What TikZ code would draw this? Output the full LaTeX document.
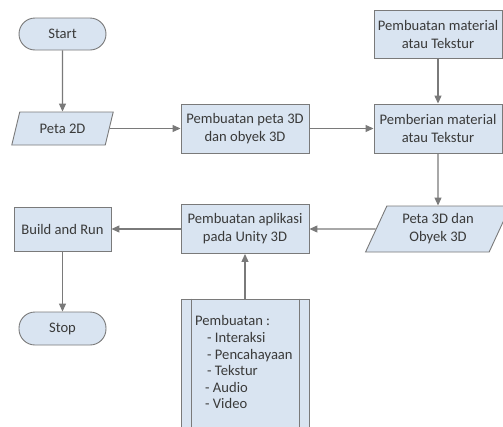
\documentclass[tikz,border=0pt]{standalone}
\usepackage{fontspec}
\setmainfont{Carlito}
\usetikzlibrary{shapes.geometric,arrows.meta,calc}
\definecolor{edgec}{HTML}{7A7A7A}
\definecolor{fillc}{HTML}{D9E4F1}
\definecolor{txtc}{HTML}{3A3A3A}
\begin{document}
\begin{tikzpicture}[x=1pt,y=-1pt,
  every node/.style={font=\fontsize{14.6}{18}\selectfont, text=txtc},
  box/.style={draw=edgec, fill=fillc, line width=0.9pt, minimum width=128pt, minimum height=49pt, align=center, inner sep=0pt},
  term/.style={draw=edgec, fill=fillc, line width=0.9pt, rounded corners=16pt, minimum width=87pt, minimum height=32pt, inner sep=0pt},
  iobox/.style={draw=edgec, fill=fillc, line width=0.9pt, trapezium, trapezium stretches=true, inner sep=0pt, align=center},
  arr/.style={draw=edgec, line width=1.1pt, -{Triangle[length=8pt,width=7pt]}}
]
\useasboundingbox (0,0) rectangle (503,426);
\clip (0,0) rectangle (503,426);
\fill[white] (0,0) rectangle (503,426);

\node[term] (start) at (62.5,34) {Start};
\node[iobox, trapezium left angle=66, trapezium right angle=114, minimum width=102pt, minimum height=33pt] (p2d) at (62.5,128.5) {Peta 2D};
\node[box] (b3d) at (245,128.5) {Pembuatan peta 3D\\dan obyek 3D};
\node[box, minimum height=48pt] (mat) at (438,34) {Pembuatan material\\atau Tekstur};
\node[box] (pem) at (438,128.5) {Pemberian material\\atau Tekstur};
\node[iobox, trapezium left angle=64, trapezium right angle=116, minimum width=145pt, minimum height=46pt] (p3d) at (438,229) {Peta 3D dan\\Obyek 3D};
\node[box] (app) at (245,229) {Pembuatan aplikasi\\pada Unity 3D};
\node[box, minimum width=97pt, minimum height=44pt] (build) at (62.5,229) {Build and Run};
\node[term, minimum height=33pt] (stop) at (62.5,328.5) {Stop};
\node[box, minimum height=141pt] (list) at (245,369.5) {};
\draw[edgec, line width=0.9pt] ($(list.north west)+(10.5,0)$) -- ($(list.south west)+(10.5,0)$);
\draw[edgec, line width=0.9pt] ($(list.north east)+(-10,0)$) -- ($(list.south east)+(-10,0)$);
\node[anchor=north west, inner sep=0pt, align=left, font=\fontsize{14.6}{16.6}\selectfont] (listtxt) at (195,315.5)
  {Pembuatan :\\\hspace*{12pt}- Interaksi\\\hspace*{12pt}- Pencahayaan\\\hspace*{12pt}- Tekstur\\\hspace*{10pt}- Audio\\\hspace*{10pt}- Video};

\draw[arr] (start) -- (p2d);
\draw[arr] (p2d) -- (b3d);
\draw[arr] (b3d) -- (pem);
\draw[arr] (mat) -- (pem);
\draw[arr] (pem) -- (p3d);
\draw[arr] (p3d) -- (app);
\draw[arr] (app) -- (build);
\draw[arr] (build) -- (stop);
\draw[arr] (list) -- (app);
\end{tikzpicture}
\end{document}
